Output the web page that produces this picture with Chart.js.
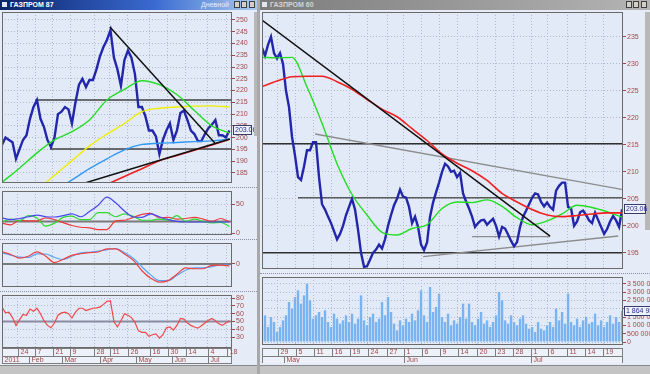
<!DOCTYPE html>
<html lang="ru">
<head>
<meta charset="UTF-8">
<title>ГАЗПРОМ</title>
<script src="https://cdn.jsdelivr.net/npm/chart.js"></script>
<style>
  body { margin: 0; width: 650px; height: 374px; overflow: hidden; position: relative;
         background: #a8a8a8; font-family: 'Liberation Sans', Arial, sans-serif; }
  .win { position: absolute; top: 10px; height: 355px; background: #e6ecf7; }
  #winL { left: 0; width: 257px; }
  #winR { left: 260px; width: 390px; }
  .title { position: absolute; top: 0; height: 10px; font-size: 7px; line-height: 10px; white-space: nowrap; }
  #titleL { left: 0; width: 257px; background: linear-gradient(90deg, #0a246a, #3a6ad0 60%, #a6caf0); color: #fff; font-weight: bold; }
  #titleR { left: 260px; width: 390px; background: linear-gradient(90deg, #7c7c7c, #b4b4b4); color: #d4d4d4; font-weight: bold; }
  .title .ico { position: absolute; left: 2px; top: 2px; width: 5px; height: 5px; background: #dfe7f5; }
  .title .txt { position: absolute; left: 10px; }
  .title .mode { position: absolute; right: 28px; font-weight: normal; color: #e8eef8; }
  .title .btn { position: absolute; top: 1px; width: 6px; height: 7px; background: #d4d0c8; border: 1px solid #404040; box-sizing: border-box; }
  .sep { position: absolute; height: 0; border-top: 1px dotted #8890a8; }
  .scroll { position: absolute; background: #c4c4c4; border-top: 1px solid #8a8a8a; }
  .vscroll { position: absolute; background: #b8b8b8; }
  canvas { position: absolute; }
</style>
</head>
<body>
  <div class="win" id="winL"></div>
  <div class="win" id="winR"></div>

  <div class="title" id="titleL">
    <div class="ico"></div><span class="txt">ГАЗПРОМ 87</span><span class="mode">Дневной</span>
    <div class="btn" style="left:234px"></div><div class="btn" style="left:241px"></div><div class="btn" style="left:249px"></div>
  </div>
  <div class="title" id="titleR">
    <div class="ico"></div><span class="txt">ГАЗПРОМ 60</span>
    <div class="btn" style="left:366px"></div><div class="btn" style="left:373px"></div><div class="btn" style="left:381px"></div>
  </div>

  <div class="sep" style="left:0; top:187px; width:257px"></div>
  <div class="sep" style="left:0; top:239px; width:257px"></div>
  <div class="sep" style="left:0; top:291px; width:257px"></div>
  <div class="sep" style="left:260px; top:273px; width:390px"></div>
  <div class="vscroll" style="left:254px; top:12px; width:3px; height:124px"></div>
  <div class="vscroll" style="left:645px; top:12px; width:5px; height:218px"></div>
  <div class="scroll" style="left:0; top:365px; width:257px; height:9px"></div>
  <div class="scroll" style="left:260px; top:365px; width:390px; height:9px"></div>

  <canvas id="leftPrice" width="252" height="171" style="left:2px; top:12px"></canvas>
  <canvas id="leftAdx" width="252" height="44" style="left:2px; top:191px"></canvas>
  <canvas id="leftMacd" width="252" height="44" style="left:2px; top:243px"></canvas>
  <canvas id="leftRsi" width="252" height="69" style="left:2px; top:295px"></canvas>
  <canvas id="rightPrice" width="388" height="257" style="left:262px; top:12px"></canvas>
  <canvas id="rightVol" width="388" height="86" style="left:262px; top:277px"></canvas>

  <script>
    // ---------- left window: daily chart, x = trading day ----------
    // close, one value every 2 trading days
    const leftClose = [197, 200, 199, 198, 191, 195, 199, 201, 208, 213,
      216, 208, 204.5, 199, 196, 200, 210, 211, 213, 212,
      206, 215, 222.5, 225, 221.5, 224.5, 224.5, 229, 234.5, 238.5,
      241.5, 245.7, 234, 229, 222, 233, 237, 234, 227, 213,
      213, 209, 203, 203, 200.5, 193, 199, 203, 206, 199,
      203, 210.5, 211.5, 207.5, 203, 201.5, 198.5, 198.5, 201.5, 204,
      205.5, 207.5, 201, 201, 200, 203.06];
    const leftRsi = [68.5, 61, 62, 55, 45, 52, 59, 58, 66, 63,
      67, 60, 51, 45, 42, 48, 58, 61, 62, 60,
      54.4, 62, 67, 67, 64, 65.5, 67, 67.5, 68.5, 72,
      76, 76.5, 50, 43, 51, 60, 58, 55, 49, 38,
      36, 36, 31, 33, 34, 28.7, 33, 42, 43, 39,
      45, 54, 53, 48, 45, 43, 41.5, 44.5, 48, 51.5,
      54, 51, 47, 45, 48, 51];
    // oscillators, one value every 5 trading days
    const leftAdx = [26, 23, 25, 28, 31, 28, 27.6, 30, 33, 28, 37, 48, 62, 52, 38, 27.6, 27, 33, 28, 23, 20, 19, 19, 19, 19, 19, 19];
    const leftPlusDi = [19, 24, 21, 30, 26, 12, 17, 27, 29, 23, 23, 35, 35, 28, 33, 29, 22, 22, 24, 22, 30, 20, 24, 20, 17.5, 18.5, 11];
    const leftMinusDi = [17, 14, 22, 21, 21, 26, 23, 18, 13, 10, 9, 6, 6, 21, 22, 27, 32, 34, 26, 27, 24, 25, 27, 24, 20, 25, 19];
    const leftMacd = [5, 4, 3.1, 2.9, 4.6, 4.5, 3, 2, 3.5, 5, 5.3, 5.8, 6.4, 7, 5.1, 2.6, -1.3, -5, -7.6, -7.6, -5.2, -2.9, -1.8, -1.8, -1.2, -0.5, -0.5];
    const leftSignal = [5.5, 4.3, 2.6, 3.5, 5.5, 3.5, 0.6, 2.1, 3.9, 4.6, 5.1, 5.4, 6.8, 6.8, 4.5, 1.7, -3.1, -6.5, -8.3, -7.6, -4.7, -1.8, -2.2, -2.2, -0.7, -0.6, -0.9];
    // moving averages, one value every 10 trading days
    const leftMaGreen = [181, 187, 193.5, 199, 202.5, 207.5, 216, 220.5, 224.2, 222.5, 218.3, 211.5, 205, 202];
    const leftMaYellow = [null, null, 177.5, 184, 190.2, 196.5, 201.5, 206, 211, 212.5, 213, 213.4, 213.5, 213];
    const leftMaBlue = [null, null, null, 177.5, 182, 186.8, 191, 194.8, 197.1, 197.6, 197.9, 198.3, 198.6, 199.4];
    const leftMaRed = [null, null, null, null, null, null, 180.1, 183.5, 186.8, 190.2, 192.4, 194.6, 196.9, 199.3];
    // drawn lines: [trading day, price]
    const leftTrendDown = [[61.7, 247], [121.7, 197.7]];
    const leftTrendUp = [[47.4, 180.7], [130.3, 199.4]];
    const leftLevelHigh = [[19, 216], [131.5, 216]];
    const leftLevelLow = [[27.4, 195.2], [131.5, 195.2]];
    // date strip
    const leftDayPos = [9.1, 18.9, 29.1, 38.9, 52.6, 61.7, 72, 84.6, 94.9, 105.1, 117.7, 128.6];
    const leftDays = ['24', '7', '21', '9', '28', '11', '26', '16', '30', '14', '4', '18'];
    const leftMonthPos = [0, 15.4, 34.3, 56, 76.6, 97.1, 117.7];
    const leftMonths = ['2011', 'Feb', 'Mar', 'Apr', 'May', 'Jun', 'Jul'];
    const leftPriceTicks = [185, 190, 195, 200, 205, 210, 215, 220, 225, 230, 235, 240, 245, 250];
    const leftRsiTicks = [30, 40, 50, 60, 70, 80];

    // ---------- right window: hourly chart, x = bar group ----------
    const rightClose = [233, 231.5, 233.5, 235, 232, 231, 232, 230, 225, 222,
      216.5, 213, 209, 208.5, 211, 214, 214, 215.5, 215.5, 209,
      204, 203, 201.7, 200.5, 199, 197.5, 198.5, 200, 202, 203.5,
      205, 203, 199.3, 195, 192.4, 192.5, 193.7, 195, 195.6, 196.5,
      195.8, 197.5, 200, 202, 203.8, 205, 206.7, 205.4, 205.2, 203.5,
      200.5, 201.7, 199.8, 196.5, 195.5, 196.9, 201.7, 204.3, 206.2, 208,
      210, 211.5, 211, 210, 210.2, 209, 209.8, 206, 204.5, 203.2,
      201.7, 199.8, 200.5, 201, 201.1, 200.2, 200.8, 201.3, 200, 198,
      199.8, 199.5, 198.4, 197.2, 196.2, 197, 199.8, 201.7, 202.8, 204,
      205.2, 206, 205.8, 204.4, 203.6, 204.3, 203.5, 203, 206.5, 207.4,
      208, 208, 203.5, 203.2, 200, 200.8, 202.5, 202.8, 202, 201,
      200.5, 202.4, 201.1, 199.8, 198.5, 199.4, 200.8, 201.8, 201, 199.8,
      203.06];
    // volume, millions
    const rightVolume = [1.0, 1.6, 0.9, 1.5, 1.2, 0.6, 0.9, 1.3, 1.6, 2.4,
      2.0, 2.7, 3.1, 2.3, 2.8, 3.5, 2.5, 1.4, 1.6, 1.8,
      1.5, 1.9, 1.2, 0.9, 1.7, 1.4, 1.1, 1.3, 1.6, 1.2,
      1.7, 1.1, 1.4, 2.8, 1.3, 1.0, 1.5, 1.7, 1.2, 1.4,
      2.4, 1.6, 2.7, 1.8, 1.1, 0.7, 1.3, 1.0, 1.4, 1.2,
      1.7, 1.3, 1.9, 3.1, 1.6, 1.2, 3.3, 1.8, 2.1, 2.9,
      1.5, 1.2, 1.7, 1.0, 1.3, 1.1, 1.5, 2.3, 1.4, 2.3,
      1.2, 1.0, 1.4, 1.8, 1.1, 1.3, 0.9, 1.2, 1.6, 3.0,
      2.5, 1.3, 1.1, 1.6, 1.2, 1.0, 1.4, 1.6, 1.1, 0.8,
      0.9, 0.6, 1.2, 0.8, 0.7, 1.0, 1.2, 0.9, 2.0, 1.3,
      1.8, 1.1, 2.9, 1.2, 1.0, 1.4, 0.9, 1.3, 1.5, 1.1,
      1.2, 1.7, 1.0, 1.3, 0.9, 1.2, 1.6, 1.1, 1.5, 1.2,
      1.864954];
    // moving averages, one value every 5 groups
    const rightMaGreen = [231.2, 231.1, 231.2, 225.7, 219, 211.5, 205.8, 202, 198.8, 198.3, 199.5, 200.2, 203.2, 204.4, 204.3, 204.8, 203.6, 201.5, 200.2, 200.9, 202.2, 203.8, 203.4, 202.6, 201.6];
    const rightMaRed = [225.8, 226.8, 227.6, 227.7, 227.7, 226.7, 225.3, 223.4, 221.6, 220.2, 218, 215.8, 213.3, 211.6, 210.2, 208.4, 206, 204.4, 203, 202, 201.7, 201.9, 202.2, 202.4, 202.4];
    const rightTrendDown = [[0, 238.1], [96, 198.1]];
    const rightTrendTop = [[17.7, 217], [120.3, 206.7]];
    const rightTrendLow = [[53.7, 194.3], [118.7, 198.1]];
    const rightBase = [[70, 198], [96, 198]];
    const rightLevelHigh = [[0, 215.2], [120.3, 215.2]];
    const rightLevelMid = [[12, 205.2], [120.3, 205.2]];
    const rightLevelLow = [[0, 195], [120.3, 195]];
    const rightDayPos = [5.3, 11.3, 17.3, 23.3, 29.3, 35.3, 41.7, 47.3, 53.3, 59.3, 65.3, 71.7, 77.7, 83.7, 89.7, 95.3, 101.7, 107.7, 113.7];
    const rightDays = ['29', '5', '11', '16', '19', '24', '27', '1', '6', '9', '14', '20', '23', '28', '1', '6', '11', '14', '19'];
    const rightMonthPos = [7.3, 47.3, 89.7];
    const rightMonths = ['May', 'Jun', 'Jul'];
    const rightPriceTicks = [195, 200, 205, 210, 215, 220, 225, 230, 235];
    const volumeTicks = [0, 0.5, 1, 1.5, 2, 2.5, 3, 3.5];

    const LABEL = '#a04848';
    const GRID = '#aeb8d0';
    const FONT = { family: 'Liberation Sans', size: 7 };

    const pts = (arr, step) => arr.map((v, i) => ({ x: i * step, y: v }));
    const seg = p => p.map(([x, y]) => ({ x, y }));
    const line = (data, color, width, smooth) => ({
      data, borderColor: color, borderWidth: width, pointRadius: 0,
      tension: 0, cubicInterpolationMode: smooth ? 'monotone' : 'default'
    });
    const thousands = v => Math.round(v * 1e6).toString().replace(/\B(?=(\d{3})+(?!\d))/g, ' ');

    // plot background and border
    const frame = {
      id: 'frame',
      beforeDraw(chart) {
        const { ctx, chartArea: a } = chart;
        ctx.save();
        ctx.fillStyle = '#e3eaf7';
        ctx.fillRect(a.left, a.top, a.right - a.left, a.bottom - a.top);
        ctx.restore();
      },
      afterDraw(chart) {
        const { ctx, chartArea: a } = chart;
        ctx.save();
        ctx.strokeStyle = '#6a6a6a';
        ctx.lineWidth = 1;
        ctx.strokeRect(a.left + 0.5, a.top + 0.5, a.right - a.left - 1, a.bottom - a.top - 1);
        ctx.restore();
      }
    };

    // two-row date strip under a panel
    const dateRows = {
      id: 'dateRows',
      afterDraw(chart, args, o) {
        if (!o.days) return;
        const { ctx, chartArea: a, scales: { x } } = chart;
        const top = a.bottom + o.gap;
        const w = a.right - a.left;
        ctx.save();
        ctx.fillStyle = '#edf1f9';
        ctx.fillRect(a.left, top, w, 16);
        ctx.strokeStyle = '#7c7c7c';
        ctx.lineWidth = 1;
        ctx.strokeRect(a.left + 0.5, top + 0.5, w - 1, 8);
        ctx.strokeRect(a.left + 0.5, top + 8.5, w - 1, 7);
        ctx.font = '7px "Liberation Sans"';
        ctx.fillStyle = LABEL;
        ctx.textBaseline = 'middle';
        const row = (pos, labels, y0) => pos.forEach((p, i) => {
          const px = Math.round(x.getPixelForValue(p)) + 0.5;
          ctx.beginPath(); ctx.moveTo(px, y0); ctx.lineTo(px, y0 + 8); ctx.stroke();
          ctx.fillText(labels[i], px + 2, y0 + 4.5);
        });
        row(o.dayPos, o.days, top);
        row(o.monthPos, o.months, top + 8);
        ctx.restore();
      }
    };

    // boxed last value on the axis
    const lastBox = {
      id: 'lastBox',
      afterDraw(chart, args, o) {
        if (!o.text) return;
        const { ctx, chartArea: a, scales: { y } } = chart;
        const py = Math.round(y.getPixelForValue(o.value));
        ctx.save();
        ctx.fillStyle = '#eef2fb';
        ctx.fillRect(a.right + 1, py - 5, o.width, 10);
        ctx.strokeStyle = '#3a3a6a';
        ctx.strokeRect(a.right + 1.5, py - 4.5, o.width - 1, 9);
        ctx.font = '7px "Liberation Sans"';
        ctx.fillStyle = '#2a2a90';
        ctx.textBaseline = 'middle';
        ctx.fillText(o.text, a.right + 3, py + 0.5);
        ctx.restore();
      }
    };

    function panel(id, type, datasets, cfg) {
      return new Chart(document.getElementById(id), {
        type,
        data: { datasets },
        options: {
          responsive: false,
          animation: false,
          events: [],
          layout: { padding: { bottom: cfg.bottom || 0 } },
          plugins: {
            legend: { display: false },
            tooltip: { enabled: false },
            dateRows: cfg.dates || {},
            lastBox: cfg.box || {}
          },
          scales: {
            x: {
              type: 'linear', min: 0, max: cfg.xMax, offset: false,
              ticks: { display: false },
              grid: { color: GRID, drawTicks: false, offset: false },
              border: { display: false, dash: [1, 2] },
              afterBuildTicks: s => { s.ticks = cfg.gridX.map(v => ({ value: v })); }
            },
            y: {
              position: 'right', min: cfg.yMin, max: cfg.yMax,
              ticks: { color: LABEL, font: FONT, padding: 1, autoSkip: false, callback: cfg.fmt || (v => v) },
              grid: { color: GRID, tickColor: LABEL, tickLength: 3 },
              border: { display: false, dash: [1, 2] },
              afterBuildTicks: s => { s.ticks = cfg.yTicks.map(v => ({ value: v })); },
              afterFit: s => { s.width = cfg.axisW; s.paddingTop = 0; s.paddingBottom = 0; }
            }
          }
        },
        plugins: [frame, dateRows, lastBox]
      });
    }

    const LX = 131.5, RX = 120.3;

    panel('leftPrice', 'line', [
      line(seg(leftTrendDown), '#111', 1.5),
      line(seg(leftTrendUp), '#111', 1.5),
      line(pts(leftMaRed, 10), '#f02020', 1.6, true),
      line(pts(leftMaGreen, 10), '#22dd22', 1.4, true),
      line(pts(leftMaYellow, 10), '#eeee00', 1.4, true),
      line(pts(leftMaBlue, 10), '#2f98f5', 1.4, true),
      line(pts(leftClose, 2), '#2226aa', 2.4),
      line(seg(leftLevelHigh), '#404040', 1.5),
      line(seg(leftLevelLow), '#404040', 1.5)
    ], { xMax: LX, yMin: 180.7, yMax: 253.4, yTicks: leftPriceTicks, axisW: 22, gridX: leftDayPos,
         box: { value: 203.06, text: '203.06', width: 19 } });

    panel('leftAdx', 'line', [
      line(pts(leftAdx, 5), '#4848ee', 1.2, true),
      line(pts(leftPlusDi, 5), '#30d830', 1.2, true),
      line(pts(leftMinusDi, 5), '#f03838', 1.2, true),
      line(seg([[0, 20], [LX, 20]]), '#7a7a7a', 2)
    ], { xMax: LX, yMin: -3.4, yMax: 72.4, yTicks: [0, 50], axisW: 22, gridX: leftDayPos });

    panel('leftMacd', 'line', [
      line(pts(leftSignal, 5), '#f04040', 1.2, true),
      line(pts(leftMacd, 5), '#55a4ff', 1.2, true),
      line(seg([[0, 0], [LX, 0]]), '#7a7a7a', 2)
    ], { xMax: LX, yMin: -10.5, yMax: 9.5, yTicks: [0], axisW: 22, gridX: leftDayPos });

    panel('leftRsi', 'line', [
      line(pts(leftRsi, 2), '#f04848', 1.2),
      line(seg([[0, 50], [LX, 50]]), '#8a8aa0', 2)
    ], { xMax: LX, yMin: 16, yMax: 84, yTicks: leftRsiTicks, axisW: 22, gridX: leftDayPos, bottom: 16,
         dates: { gap: 0, dayPos: leftDayPos, days: leftDays, monthPos: leftMonthPos, months: leftMonths } });

    panel('rightPrice', 'line', [
      line(seg(rightTrendDown), '#111', 1.5),
      line(pts(rightMaRed, 5), '#f02020', 1.6, true),
      line(pts(rightMaGreen, 5), '#22dd22', 1.4, true),
      line(pts(rightClose, 1), '#2226aa', 2.4),
      line(seg(rightTrendTop), '#8c8c8c', 1.4),
      line(seg(rightTrendLow), '#8c8c8c', 1.4),
      line(seg(rightBase), '#8c8c8c', 1.4),
      line(seg(rightLevelMid), '#5a5a5a', 1.4),
      line(seg(rightLevelHigh), '#303030', 1.5),
      line(seg(rightLevelLow), '#303030', 1.5)
    ], { xMax: RX, yMin: 192, yMax: 239.6, yTicks: rightPriceTicks, axisW: 27, gridX: rightDayPos,
         box: { value: 203.06, text: '203.06', width: 22 } });

    panel('rightVol', 'bar', [{
      data: pts(rightVolume, 1), backgroundColor: '#7ab4f0', borderWidth: 0,
      barPercentage: 0.8, categoryPercentage: 1
    }], { xMax: RX, yMin: -0.18, yMax: 3.9, yTicks: volumeTicks, axisW: 27, gridX: rightDayPos, bottom: 18,
          fmt: thousands,
          box: { value: 1.864954, text: '1 864 954', width: 28 },
          dates: { gap: 3, dayPos: rightDayPos, days: rightDays, monthPos: rightMonthPos, months: rightMonths } });
  </script>
</body>
</html>
